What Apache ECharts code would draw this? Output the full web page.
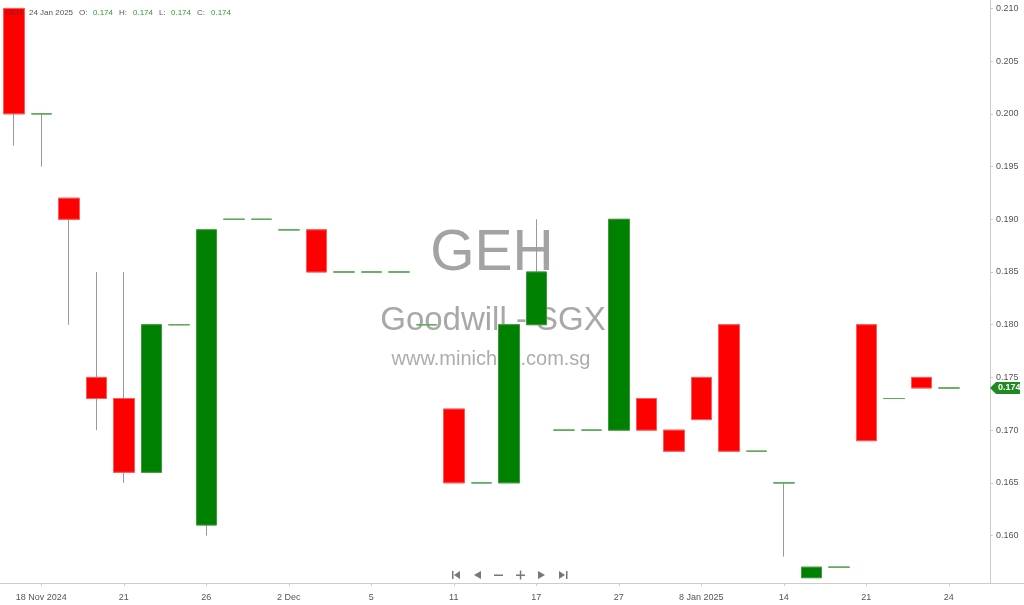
<!DOCTYPE html>
<html>
<head>
<meta charset="utf-8">
<script src="https://cdn.jsdelivr.net/npm/echarts@6/dist/echarts.min.js"></script>
<style>
html,body{margin:0;padding:0;background:#fff;}
#chart{width:1024px;height:605px;}
</style>
</head>
<body>
<div id="chart"></div>
<script>
const dates = ['15 Nov 2024','18 Nov 2024','19 Nov','20 Nov','21 Nov','22 Nov','25 Nov','26 Nov','27 Nov','29 Nov','2 Dec','3 Dec','4 Dec','5 Dec','6 Dec','10 Dec','11 Dec','12 Dec','16 Dec','17 Dec','19 Dec','23 Dec','27 Dec','2 Jan','6 Jan','8 Jan 2025','9 Jan','10 Jan','14 Jan','15 Jan','17 Jan','21 Jan','22 Jan','23 Jan','24 Jan'];
const opens  = [0.210,0.200,0.192,0.175,0.173,0.166,0.180,0.161,0.190,0.190,0.189,0.189,0.185,0.185,0.185,0.180,0.172,0.165,0.165,0.180,0.170,0.170,0.170,0.173,0.170,0.175,0.180,0.168,0.165,0.156,0.157,0.180,0.173,0.175,0.174];
const closes = [0.200,0.200,0.190,0.173,0.166,0.180,0.180,0.189,0.190,0.190,0.189,0.185,0.185,0.185,0.185,0.180,0.165,0.165,0.180,0.185,0.170,0.170,0.190,0.170,0.168,0.171,0.168,0.168,0.165,0.157,0.157,0.169,0.173,0.174,0.174];
const lows   = [0.197,0.195,0.180,0.170,0.165,0.166,0.180,0.160,0.190,0.190,0.189,0.185,0.185,0.185,0.185,0.180,0.165,0.165,0.165,0.180,0.170,0.170,0.170,0.170,0.168,0.171,0.168,0.168,0.158,0.156,0.157,0.169,0.173,0.174,0.174];
const highs  = [0.210,0.200,0.192,0.185,0.185,0.180,0.180,0.189,0.190,0.190,0.189,0.189,0.185,0.185,0.185,0.180,0.172,0.165,0.180,0.190,0.170,0.170,0.190,0.173,0.170,0.175,0.180,0.168,0.165,0.157,0.157,0.180,0.173,0.175,0.174];
const xTickLabels = ['18 Nov 2024','21','26','2 Dec','5','11','17','27','8 Jan 2025','14','21','24'];
const yTickValues = [0.160,0.165,0.170,0.175,0.180,0.185,0.190,0.195,0.200,0.205,0.210];

const categories = dates.concat(['']);
const wickData = dates.map((d,i)=>[opens[i],closes[i],lows[i],highs[i]]);
const bodyData = dates.map((d,i)=>[opens[i],closes[i],Math.min(opens[i],closes[i]),Math.max(opens[i],closes[i])]);
const showTick = (idx)=> idx % 3 === 1 && idx < dates.length;

const chart = echarts.init(document.getElementById('chart'), null, {renderer:'canvas'});
const FONT = 'Liberation Sans, Arial, sans-serif';
const option = {
  animation:false,
  backgroundColor:'#fff',
  grid:{left:0,right:34,top:0,bottom:22,containLabel:false},
  xAxis:{
    type:'category',
    data:categories,
    boundaryGap:true,
    axisLine:{show:true,lineStyle:{color:'#cccccc',width:1}},
    axisTick:{show:true,alignWithLabel:true,interval:(idx)=>showTick(idx),length:3,lineStyle:{color:'#cccccc'}},
    axisLabel:{
      interval:(idx)=>showTick(idx),
      formatter:(val,idx)=> showTick(idx) ? xTickLabels[(idx-1)/3] : '',
      color:'#555',fontSize:9,fontFamily:FONT,margin:10
    },
    splitLine:{show:false}
  },
  yAxis:{
    type:'value',
    position:'right',
    min:0.1555,
    max:0.2108,
    scale:true,
    axisLine:{show:true,lineStyle:{color:'#cccccc',width:1}},
    axisTick:{show:true,length:3,lineStyle:{color:'#cccccc'},customValues:yTickValues},
    axisLabel:{show:true,customValues:yTickValues,formatter:(v)=>v.toFixed(3),color:'#555',fontSize:9,fontFamily:FONT,margin:6},
    splitLine:{show:false}
  },
  series:[
    {
      name:'wick',
      type:'candlestick',
      data:wickData,
      barWidth:21,
      z:3,
      itemStyle:{color:'rgba(0,0,0,0)',color0:'rgba(0,0,0,0)',borderColor:'#999999',borderColor0:'#999999',borderColorDoji:'#999999',borderWidth:1}
    },
    {
      name:'body',
      type:'candlestick',
      data:bodyData,
      barWidth:21,
      z:4,
      itemStyle:{color:'#008000',color0:'#ff0000',borderColor:'#3c9a3c',borderColor0:'#ff5a5a',borderColorDoji:'#55b055',borderWidth:1}
    }
  ]
};
chart.setOption(option);

// decorations
const lastClose = closes[closes.length-1];
const yLast = chart.convertToPixel({yAxisIndex:0}, lastClose);
const nav = '#777';
const HF = '8px '+FONT;
const graphics = [
  {type:'text',z:1,style:{text:'GEH',x:492,y:254,textAlign:'center',textVerticalAlign:'middle',font:'57px '+FONT,fill:'#a3a3a3'}},
  {type:'text',z:1,style:{text:'Goodwill - SGX',x:493,y:321,textAlign:'center',textVerticalAlign:'middle',font:'33px '+FONT,fill:'#a8a8a8'}},
  {type:'text',z:1,style:{text:'www.minichart.com.sg',x:491,y:359,textAlign:'center',textVerticalAlign:'middle',font:'20px '+FONT,fill:'#adadad'}},
  // header
  {type:'text',z:10,style:{text:'GEH',x:5,y:13,textVerticalAlign:'middle',font:HF,fill:'#8b1a1a'}},
  {type:'text',z:10,style:{text:'24 Jan 2025',x:29,y:13,textVerticalAlign:'middle',font:HF,fill:'#555'}},
  {type:'text',z:10,style:{text:'O:',x:79,y:13,textVerticalAlign:'middle',font:HF,fill:'#555'}},
  {type:'text',z:10,style:{text:opens[opens.length-1].toFixed(3),x:93,y:13,textVerticalAlign:'middle',font:HF,fill:'#2e9a2e'}},
  {type:'text',z:10,style:{text:'H:',x:119,y:13,textVerticalAlign:'middle',font:HF,fill:'#555'}},
  {type:'text',z:10,style:{text:highs[highs.length-1].toFixed(3),x:133,y:13,textVerticalAlign:'middle',font:HF,fill:'#2e9a2e'}},
  {type:'text',z:10,style:{text:'L:',x:159,y:13,textVerticalAlign:'middle',font:HF,fill:'#555'}},
  {type:'text',z:10,style:{text:lows[lows.length-1].toFixed(3),x:171,y:13,textVerticalAlign:'middle',font:HF,fill:'#2e9a2e'}},
  {type:'text',z:10,style:{text:'C:',x:197,y:13,textVerticalAlign:'middle',font:HF,fill:'#555'}},
  {type:'text',z:10,style:{text:lastClose.toFixed(3),x:211,y:13,textVerticalAlign:'middle',font:HF,fill:'#2e9a2e'}},
  // extend x axis line to right edge
  {type:'line',z:1,shape:{x1:990,y1:583.5,x2:1024,y2:583.5},style:{stroke:'#cccccc',lineWidth:1}},
  // last price tag
  {type:'polygon',z:10,shape:{points:[[990,yLast],[996,yLast-6],[1020,yLast-6],[1020,yLast+6],[996,yLast+6]]},style:{fill:'#1f8a1f'}},
  {type:'text',z:11,style:{text:lastClose.toFixed(3),x:998,y:yLast,textVerticalAlign:'middle',font:'bold 9px '+FONT,fill:'#fff'}},
  // navigation icons
  {type:'rect',z:10,shape:{x:452,y:571,width:1.5,height:8},style:{fill:nav}},
  {type:'polygon',z:10,shape:{points:[[454,575],[460,571],[460,579]]},style:{fill:nav}},
  {type:'polygon',z:10,shape:{points:[[474,575],[481,571],[481,579]]},style:{fill:nav}},
  {type:'rect',z:10,shape:{x:494,y:574.5,width:9,height:1.5},style:{fill:nav}},
  {type:'rect',z:10,shape:{x:516,y:574.5,width:9,height:1.5},style:{fill:nav}},
  {type:'rect',z:10,shape:{x:519.8,y:570.5,width:1.5,height:9},style:{fill:nav}},
  {type:'polygon',z:10,shape:{points:[[538,571],[545,575],[538,579]]},style:{fill:nav}},
  {type:'polygon',z:10,shape:{points:[[559,571],[565,575],[559,579]]},style:{fill:nav}},
  {type:'rect',z:10,shape:{x:566,y:571,width:1.5,height:8},style:{fill:nav}}
];
chart.setOption({graphic:graphics});
</script>
</body>
</html>
